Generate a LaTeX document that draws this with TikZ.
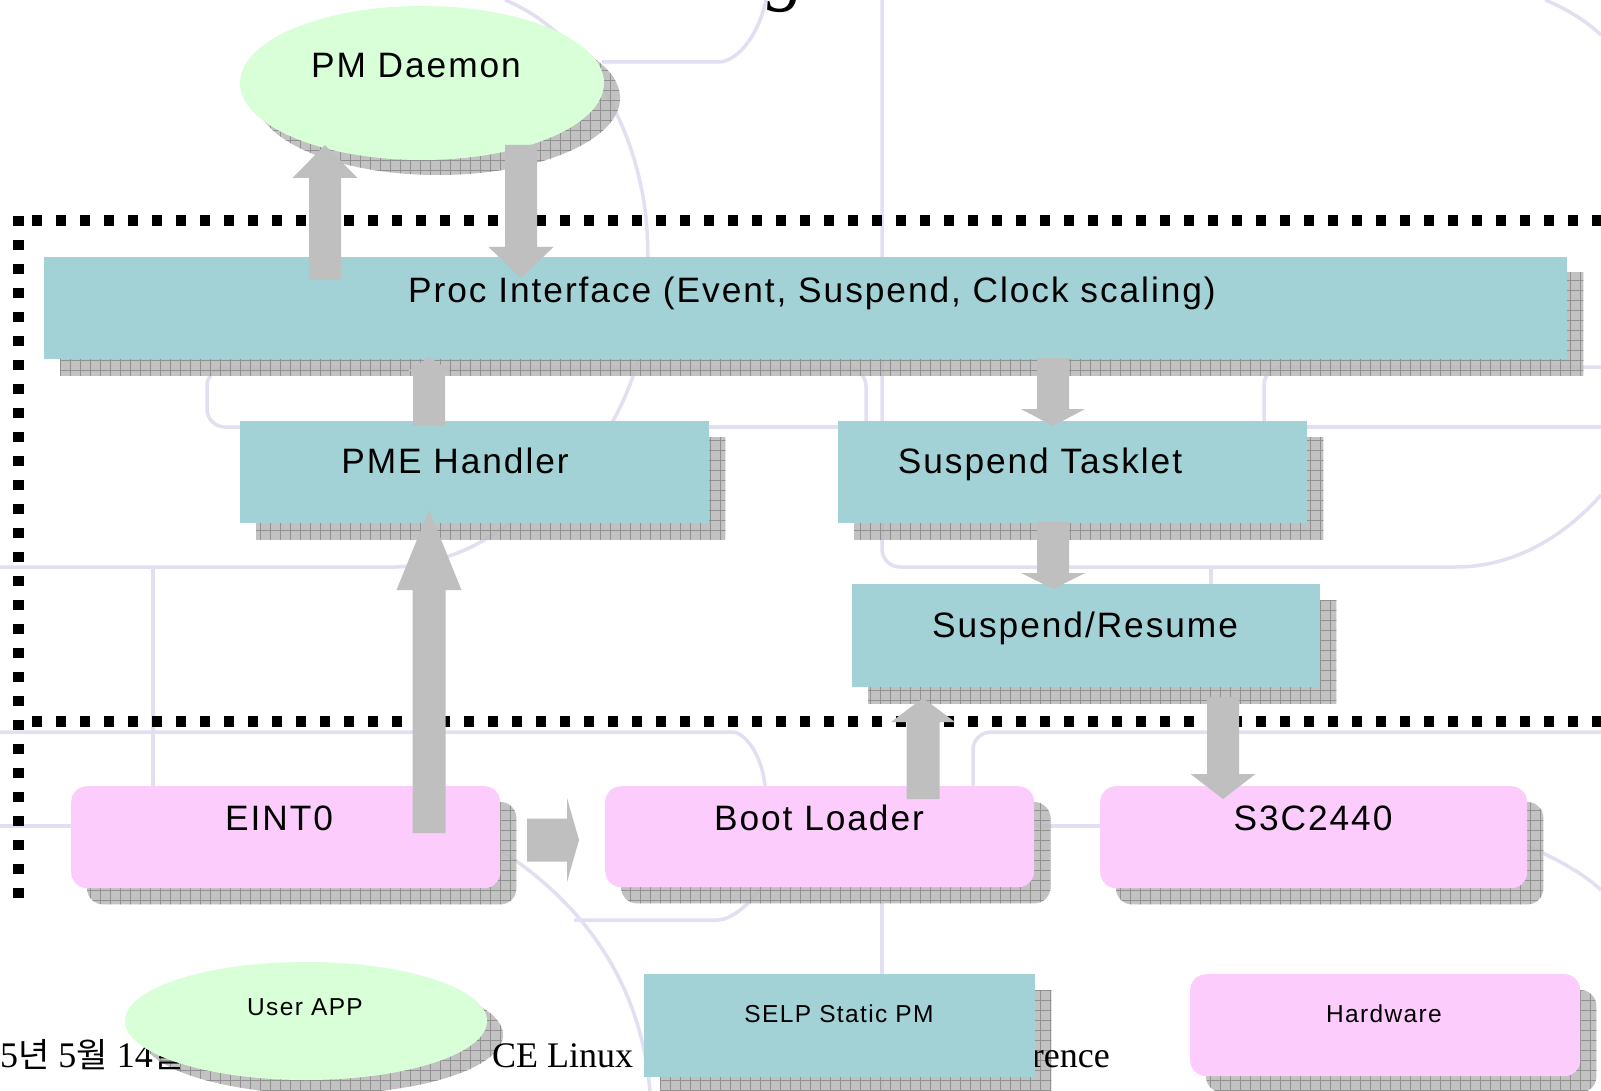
\documentclass[tikz,border=0pt]{standalone}
\usepackage{fontspec}
\newfontfamily\labelfont{Liberation Sans}[LetterSpace=5.5]
\newfontfamily\footserif{Liberation Serif}
\newfontfamily\cjk{Noto Sans CJK KR}
\usetikzlibrary{shapes.geometric,calc}

\definecolor{tealfill}{RGB}{162,210,214}
\definecolor{pinkfill}{RGB}{252,204,252}
\definecolor{greenfill}{RGB}{216,255,216}
\definecolor{arrowgray}{RGB}{191,191,191}
\definecolor{shadowbase}{RGB}{184,184,184}
\definecolor{shadowline}{RGB}{140,140,140}
\definecolor{lavender}{RGB}{226,223,242}

\pgfdeclarelayer{bglines}
\pgfdeclarelayer{shadows}
\pgfdeclarelayer{middle}
\pgfsetlayers{bglines,shadows,middle,main}

\tikzset{
  tealbox/.style={rectangle, fill=tealfill, inner sep=0pt, anchor=north west},
  pinkbox/.style={rectangle, rounded corners=16pt, fill=pinkfill, inner sep=0pt, anchor=north west},
  greenoval/.style={ellipse, fill=greenfill, inner sep=0pt},
  biglabel/.style={font=\labelfont\fontsize{35.3}{40}\selectfont, inner sep=0pt, anchor=base},
  smalllabel/.style={font=\labelfont\fontsize{24.5}{28}\selectfont, inner sep=0pt, anchor=base},
  bgline/.style={draw=lavender, line width=3.5pt, rounded corners=18pt},
  dotline/.style={line width=11pt, dash pattern=on 10pt off 14pt},
  footfont/.style={font=\footserif\fontsize{36}{40}\selectfont, inner sep=0pt},
}

% hatched drop shadow, offset down-right, clipped to the given shape
\newcommand\boxshadow[2]{%
  \begin{scope}
    \clip[rounded corners=#2] ([shift={(16,16)}]#1.north west) rectangle ([shift={(16,16)}]#1.south east);
    \fill[shadowbase, fill opacity=.85] (0,0) rectangle (1601,1091);
    \draw[shadowline, line width=.9pt, draw opacity=.9] (0,0) grid[step=10pt] (1601,1091);
  \end{scope}}
\newcommand\ovalshadow[4]{%
  \begin{scope}
    \clip ([shift={(16,#4)}]#1.center) ellipse [x radius=#2, y radius=#3];
    \fill[shadowbase, fill opacity=.85] (0,0) rectangle (1601,1091);
    \draw[shadowline, line width=.9pt, draw opacity=.9] (0,0) grid[step=10pt] (1601,1091);
  \end{scope}}

% block arrow: from, to, half shaft width, half head width, head length
\newcommand\blockarrow[5]{%
  \coordinate (hb) at ($(#2)!#5!(#1)$);
  \fill[arrowgray] ($(#1)!#3!90:(#2)$) -- ($(hb)!#3!90:(#2)$) -- ($(hb)!#4!90:(#2)$)
    -- (#2) -- ($(hb)!#4!-90:(#2)$) -- ($(hb)!#3!-90:(#2)$) -- ($(#1)!#3!-90:(#2)$) -- cycle;}

\newcommand\hg[1]{{\cjk\fontsize{34}{40}\selectfont #1}}

\begin{document}
\begin{tikzpicture}[x=1pt, y=-1pt]
\useasboundingbox (0,0) rectangle (1601,1091);

% ---- slide template lines ----
\begin{pgfonlayer}{bglines}
\fill[white] (0,0) rectangle (1601,1091);
\draw[bgline] (602,62) -- (700,62) .. controls (740,62) and (760,30) .. (766,0);
\draw[bgline] (505,0) .. controls (590,35) and (645,140) .. (648,260)
  .. controls (650,380) and (600,470) .. (500,530)
  .. controls (460,555) and (420,567) .. (378,567) -- (0,567);
\draw[bgline] (153,567) -- (153,786);
\draw[bgline] (866,421) -- (866,368) -- (207,368) -- (207,427) -- (240,427);
\draw[bgline] (709,427) -- (838,427);
\draw[bgline] (882,0) -- (882,567) -- (1438,567) .. controls (1520,567) and (1570,530) .. (1601,495);
\draw[bgline] (1601,367) -- (1264,367) -- (1264,421);
\draw[bgline] (1307,427) -- (1601,427);
\draw[bgline] (1211,567) -- (1211,584);
\draw[bgline] (1545,0) .. controls (1565,8) and (1585,20) .. (1601,35);
\draw[bgline] (0,732) -- (714,732) .. controls (745,732) and (762,755) .. (765,786);
\draw[bgline] (973,786) -- (973,732) -- (1601,732);
\draw[bgline] (0,826) -- (71,826);
\draw[bgline] (1034,826) -- (1100,826);
\draw[bgline] (500,850) .. controls (570,895) and (640,970) .. (650,1091);
\draw[bgline] (574,920) -- (700,920) .. controls (730,920) and (750,905) .. (762,886);
\draw[bgline] (882,903) -- (882,1091);
\draw[bgline] (1525,845) .. controls (1560,860) and (1585,875) .. (1601,890);
\end{pgfonlayer}

% ---- boxes ----
\node[greenoval, minimum width=364pt, minimum height=154pt] (pmd) at (422,83) {};
\node[tealbox, minimum width=1523pt, minimum height=102pt] (proc) at (44,257) {};
\node[tealbox, minimum width=469pt, minimum height=102pt] (pme) at (240,421) {};
\node[tealbox, minimum width=469pt, minimum height=102pt] (tasklet) at (838,421) {};
\node[tealbox, minimum width=468pt, minimum height=103pt] (susres) at (852,584) {};
\node[pinkbox, minimum width=429pt, minimum height=102pt] (eint) at (71,786) {};
\node[pinkbox, minimum width=429pt, minimum height=101pt] (boot) at (605,786) {};
\node[pinkbox, minimum width=427pt, minimum height=102pt] (s3c) at (1100,786) {};
\node[greenoval, minimum width=362pt, minimum height=118pt] (uapp) at (306,1021) {};
\node[tealbox, minimum width=391pt, minimum height=103pt] (selp) at (644,974) {};
\node[pinkbox, minimum width=390pt, minimum height=102pt] (hw) at (1190,974) {};

% ---- shadows ----
\begin{pgfonlayer}{shadows}
\ovalshadow{pmd}{182pt}{77pt}{15}
\boxshadow{proc}{0pt}
\boxshadow{pme}{0pt}
\boxshadow{tasklet}{0pt}
\boxshadow{susres}{0pt}
\boxshadow{eint}{16pt}
\boxshadow{boot}{16pt}
\boxshadow{s3c}{16pt}
\ovalshadow{uapp}{181pt}{59pt}{14}
\boxshadow{selp}{0pt}
\boxshadow{hw}{16pt}
\end{pgfonlayer}

% ---- dotted frame and footer ----
\begin{pgfonlayer}{middle}
\draw[dotline] (32,221) -- (1612,221);
\draw[dotline] (32,721) -- (1612,721);
\draw[dotline] (18,216) -- (18,903);
\node[font=\footserif\itshape\fontsize{76}{80}\selectfont, inner sep=0pt, anchor=base] (titleg) at (786,-3) {g};
\node[footfont, anchor=base west] (date) at (-54,1067) {2005\hg{년} 5\hg{월} 14\hg{일}};
\node[footfont, anchor=base west] (celinux) at (492,1067) {CE Linux};
\node[footfont, anchor=base east] (conf) at (1110,1067) {Conference};
\end{pgfonlayer}

% ---- labels ----
\node[biglabel] (pmdT) at (416,78) {PM Daemon};
\node[biglabel] (procT) at (812,303) {Proc Interface (Event, Suspend, Clock scaling)};
\node[biglabel] (pmeT) at (455,473) {PME Handler};
\node[biglabel] (taskletT) at (1040,473) {Suspend Tasklet};
\node[biglabel] (susresT) at (1085,637) {Suspend/Resume};
\node[biglabel] (eintT) at (279,830) {EINT0};
\node[biglabel] (bootT) at (819,830) {Boot Loader};
\node[biglabel] (s3cT) at (1313,830) {S3C2440};
\node[smalllabel] (uappT) at (305,1015) {User APP};
\node[smalllabel] (selpT) at (839,1022) {SELP Static PM};
\node[smalllabel] (hwT) at (1384,1022) {Hardware};

% ---- block arrows ----
\coordinate (a1s) at (325,280);  \coordinate (a1e) at (325,145);
\coordinate (a2s) at (521,145);  \coordinate (a2e) at (521,278);
\coordinate (a3s) at (429,426);  \coordinate (a3e) at (429,357);
\coordinate (a4s) at (1053,358); \coordinate (a4e) at (1053,426);
\coordinate (a5s) at (1053,522); \coordinate (a5e) at (1053,589);
\coordinate (a6s) at (429,833);  \coordinate (a6e) at (429,510);
\coordinate (a7s) at (923,799);  \coordinate (a7e) at (923,698);
\coordinate (a8s) at (1223,697); \coordinate (a8e) at (1223,799);
\coordinate (a9s) at (527,840);  \coordinate (a9e) at (579,840);
\blockarrow{a1s}{a1e}{16pt}{32.5pt}{33pt}
\blockarrow{a2s}{a2e}{16pt}{32.5pt}{31pt}
\blockarrow{a3s}{a3e}{16pt}{21pt}{14pt}
\blockarrow{a4s}{a4e}{16pt}{32pt}{17pt}
\blockarrow{a5s}{a5e}{16pt}{32pt}{16pt}
\blockarrow{a6s}{a6e}{16.5pt}{32.5pt}{80pt}
\blockarrow{a7s}{a7e}{16.5pt}{32pt}{24pt}
\blockarrow{a8s}{a8e}{16pt}{32.5pt}{25pt}
\blockarrow{a9s}{a9e}{21.5pt}{42pt}{12pt}
\end{tikzpicture}
\end{document}
